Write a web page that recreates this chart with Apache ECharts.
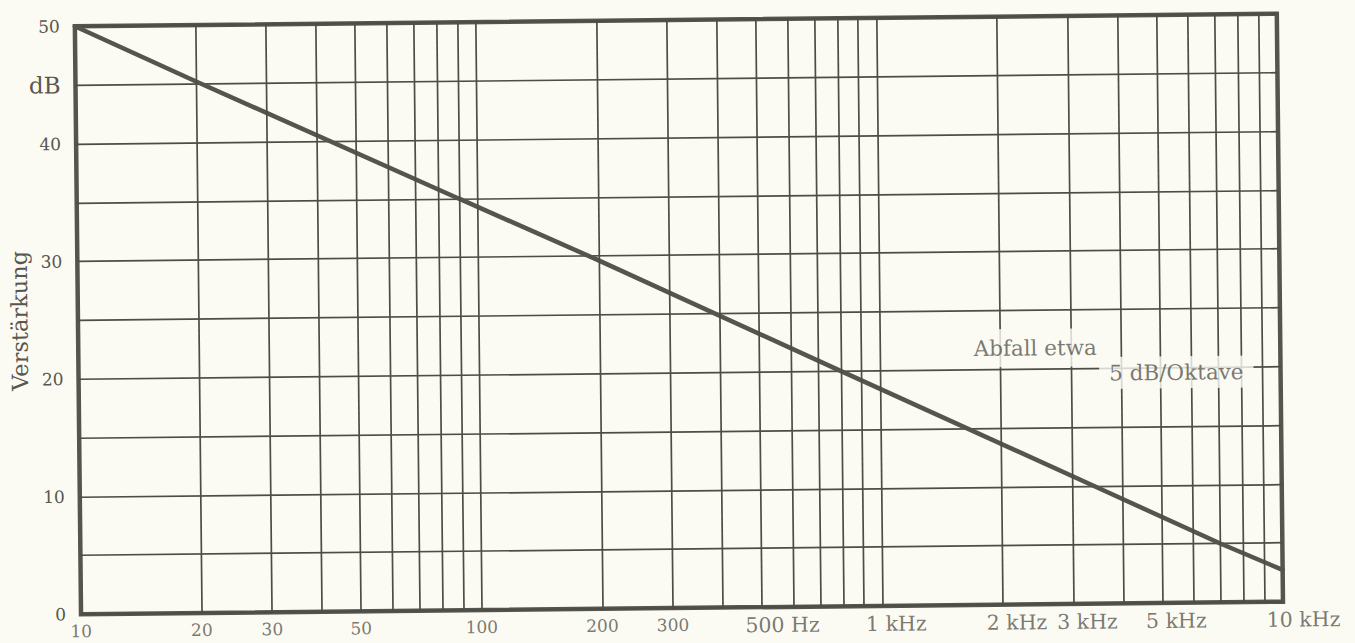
<!DOCTYPE html>
<html>
<head>
<meta charset="utf-8">
<script src="https://cdn.jsdelivr.net/npm/echarts@6/dist/echarts.min.js"></script>
<style>
  html, body { margin: 0; padding: 0; background: #fbfbf3; overflow: hidden; }
  #chart { width: 1355px; height: 643px; transform: rotate(-0.6deg); transform-origin: 50% 50%; }
</style>
</head>
<body>
<div id="chart"></div>
<script>
// Frequency (Hz) and gain (dB)
const curveFreq = [10, 20, 90, 195, 800, 3400, 7000, 10000];
const curveGain = [50, 45.2, 35, 29.8, 20, 10, 5, 2.7];

// Vertical grid lines (Hz)
const gridFreqs = [20, 30, 40, 50, 60, 70, 80, 90, 100,
                   200, 300, 400, 500, 600, 700, 800, 900, 1000,
                   2000, 3000, 4000, 5000, 6000, 7000, 8000, 9000];

// X tick labels
const tickFreqs = [10, 20, 30, 50, 100, 200, 300, 500, 1000, 2000, 3000, 5000, 10000];
const tickTexts = ['10', '20', '30', '50', '100', '200', '300', '500 Hz', '1 kHz', '2 kHz', '3 kHz', '5 kHz', '10 kHz'];

// Y tick labels
const yTickValues = [0, 10, 20, 30, 40, 50];
const yUnitValue = 45;
const yUnitText = 'dB';
const yAxisTitle = 'Verstärkung';

// Annotation
const noteTexts = ['Abfall etwa', '5 dB/Oktave'];
const noteFreqs = [2445, 5495];
const noteGains = [21.8, 19.6];

const INK = '#55554f';
const GRID = '#4d4d47';
const TEXT = '#57574f';
const BG = '#fbfbf3';
const FONT = '"DejaVu Serif", "Liberation Serif", serif';

const chart = echarts.init(document.getElementById('chart'), null, { renderer: 'svg' });

const option = {
  backgroundColor: BG,
  animation: false,
  grid: {
    left: 78, right: 75, top: 20, bottom: 35,
    containLabel: false, outerBoundsMode: 'none',
    show: true, borderColor: INK, borderWidth: 4.5, backgroundColor: 'transparent'
  },
  xAxis: {
    type: 'log', logBase: 10, min: 10, max: 10000,
    axisLine: { show: false }, axisTick: { show: false },
    axisLabel: { show: false }, splitLine: { show: false }
  },
  yAxis: {
    type: 'value', min: 0, max: 50, interval: 5,
    name: yAxisTitle, nameLocation: 'middle', nameGap: 47, nameRotate: 90,
    nameMoveOverlap: false,
    nameTextStyle: { fontFamily: FONT, fontSize: 22.5, color: TEXT },
    axisLine: { show: false }, axisTick: { show: false },
    splitLine: { show: true, lineStyle: { color: GRID, width: 1.7 } },
    axisLabel: {
      margin: 15,
      fontFamily: FONT, fontSize: 17, color: TEXT,
      formatter: function (v) {
        if (yTickValues.indexOf(v) >= 0) return String(v);
        if (v === yUnitValue) return '{u|' + yUnitText + '}';
        return '';
      },
      rich: { u: { fontFamily: FONT, fontSize: 23, color: TEXT } }
    }
  },
  series: [
    {
      type: 'line', z: 1, silent: true,
      data: [],
      markLine: {
        silent: true, symbol: 'none', animation: false,
        lineStyle: { type: 'solid', color: GRID, width: 1.7 },
        label: { show: false },
        data: gridFreqs.map(f => ({ xAxis: f }))
      }
    },
    {
      type: 'scatter', z: 4, silent: true,
      symbolSize: 1,
      itemStyle: { color: 'transparent' },
      data: tickFreqs.map((f, i) => {
        const unit = tickTexts[i].indexOf('Hz') >= 0;
        return {
          value: [f, 0],
          label: {
            show: true,
            formatter: tickTexts[i],
            position: unit ? [-16, 8] : [0.5, 9],
            align: unit ? 'left' : 'center',
            fontFamily: FONT,
            fontSize: unit ? 20.5 : 17,
            color: TEXT
          }
        };
      })
    },
    {
      type: 'line', z: 3, silent: true,
      symbol: 'none',
      lineStyle: { color: INK, width: 4.5, cap: 'round' },
      data: curveFreq.map((f, i) => [f, curveGain[i]])
    },
    {
      type: 'scatter', z: 5, silent: true,
      symbolSize: 1,
      itemStyle: { color: 'transparent' },
      data: noteTexts.map((t, i) => ({
        value: [noteFreqs[i], noteGains[i]],
        label: {
          show: true, position: 'inside', formatter: t,
          fontFamily: FONT, fontSize: 21.5, color: TEXT,
          backgroundColor: BG,
          padding: i === 0 ? [12, 8, 4, 8] : [6, 10, 4, 10]
        }
      }))
    }
  ]
};

chart.setOption(option);
</script>
</body>
</html>
